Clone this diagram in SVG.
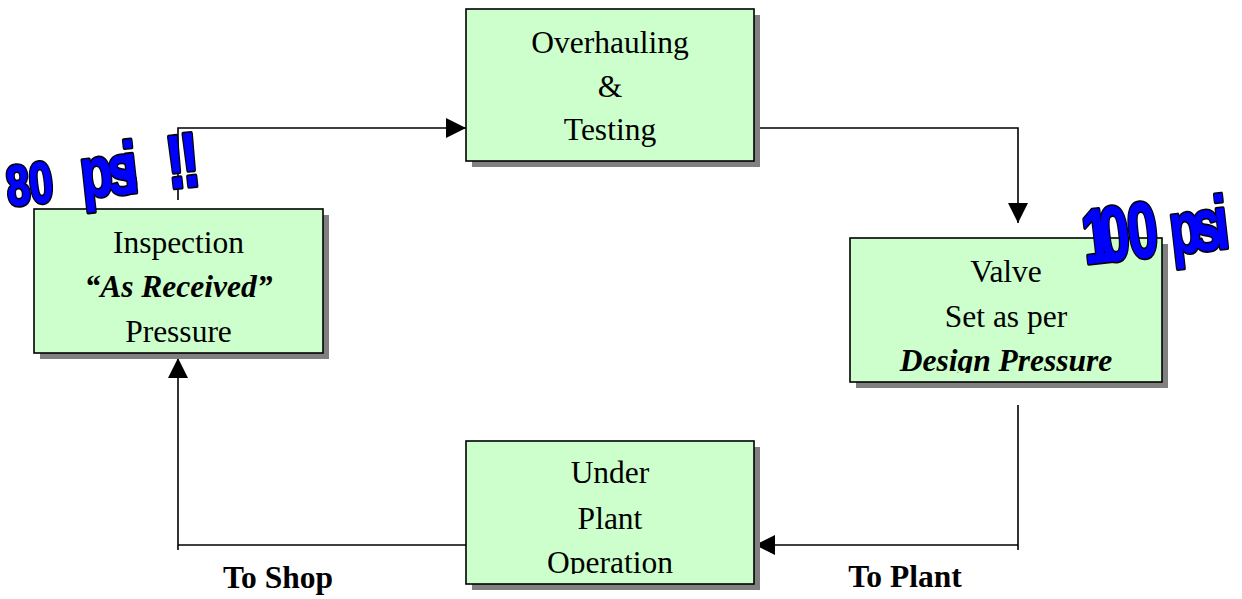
<svg xmlns="http://www.w3.org/2000/svg" xmlns:xlink="http://www.w3.org/1999/xlink" width="1242" height="599" viewBox="0 0 1242 599">
<style>
.box{fill:#ccffcc;stroke:#000;stroke-width:1.6}
.shadow{fill:#808080}
.t{font-family:"Liberation Serif","Times New Roman",serif;font-size:31.5px;fill:#000;text-anchor:middle}
.bi{font-weight:bold;font-style:italic}
.lbl{font-family:"Liberation Serif","Times New Roman",serif;font-size:31.5px;font-weight:bold;fill:#000;text-anchor:middle}
.conn{fill:none;stroke:#000;stroke-width:1.6}
.wa{font-family:"Liberation Sans",Arial,sans-serif;font-weight:bold}
.wa-out{fill:#000;stroke:#000;stroke-width:4.4;stroke-linejoin:round}
.wa-in{fill:#0000ff;stroke:#0000ff;stroke-width:1.2;stroke-linejoin:round}
</style>
<defs>
<marker id="arr" viewBox="0 0 20 20" refX="20" refY="10" markerWidth="20" markerHeight="20" markerUnits="userSpaceOnUse" orient="auto">
<path d="M0,0 L20,10 L0,20 Z" fill="#000"/>
</marker>
<clipPath id="clipValve"><rect x="850" y="238" width="312" height="135"/></clipPath>
<clipPath id="clipUnder"><rect x="466" y="441" width="288" height="133"/></clipPath>
<text id="wa80" class="wa"><tspan x="-2" y="0" font-size="57">8</tspan><tspan x="29" y="0" font-size="58">0</tspan><tspan x="99" y="0" font-size="71">p</tspan><tspan x="136" y="0" font-size="71">s</tspan><tspan x="157" y="0" font-size="73">i</tspan><tspan x="216" y="0" font-size="75">!</tspan><tspan x="236" y="0" font-size="77">!</tspan></text>
<text id="wa100" class="wa"><tspan x="-1" y="0" font-size="77">1</tspan><tspan x="24" y="0" font-size="78">0</tspan><tspan x="65" y="0" font-size="79">0</tspan><tspan x="126" y="0" font-size="73">p</tspan><tspan x="159" y="0" font-size="73">s</tspan><tspan x="191" y="0" font-size="75">i</tspan></text>
</defs>
<rect width="1242" height="599" fill="#fff"/>

<g id="connectors">
<path class="conn" d="M178,200 L178,128 L466,128" marker-end="url(#arr)"/>
<path class="conn" d="M754,128 L1018,128 L1018,223" marker-end="url(#arr)"/>
<path class="conn" d="M1018,405 L1018,550"/>
<path class="conn" d="M1018,545 L755,545" marker-end="url(#arr)"/>
<path class="conn" d="M466,545 L178,545"/>
<path class="conn" d="M178,550 L178,358" marker-end="url(#arr)"/>
</g>

<g id="node-inspection">
<rect class="shadow" x="40" y="215" width="289" height="144"/>
<rect class="box" x="34" y="209" width="289" height="144"/>
<text class="t" x="178.5" y="253">Inspection</text>
<text class="t bi" x="178.5" y="297">“As Received”</text>
<text class="t" x="178.5" y="342">Pressure</text>
</g>

<g id="node-overhauling">
<rect class="shadow" x="472" y="15" width="288" height="152"/>
<rect class="box" x="466" y="9" width="288" height="152"/>
<text class="t" x="610" y="53">Overhauling</text>
<text class="t" x="610" y="97">&amp;</text>
<text class="t" x="610" y="140">Testing</text>
</g>

<g id="node-valve">
<rect class="shadow" x="856" y="244" width="312" height="144"/>
<rect class="box" x="850" y="238" width="312" height="144"/>
<g clip-path="url(#clipValve)">
<text class="t" x="1006" y="282">Valve</text>
<text class="t" x="1006" y="327">Set as per</text>
<text class="t bi" x="1006" y="371">Design Pressure</text>
</g>
</g>

<g id="node-under">
<rect class="shadow" x="472" y="447" width="288" height="143"/>
<rect class="box" x="466" y="441" width="288" height="143"/>
<g clip-path="url(#clipUnder)">
<text class="t" x="610" y="483">Under</text>
<text class="t" x="610" y="529">Plant</text>
<text class="t" x="610" y="573">Operation</text>
</g>
</g>

<g id="labels">
<text class="lbl" x="278" y="588">To Shop</text>
<text class="lbl" x="905" y="587">To Plant</text>
</g>

<g id="wordart-80" transform="translate(10,206) rotate(-6.2) scale(0.74,1)">
<use xlink:href="#wa80" class="wa-out"/>
<use xlink:href="#wa80" class="wa-in"/>
</g>

<g id="wordart-100" transform="translate(1086,264) rotate(-6.5) scale(0.69,1)">
<use xlink:href="#wa100" class="wa-out"/>
<use xlink:href="#wa100" class="wa-in"/>
</g>
</svg>
